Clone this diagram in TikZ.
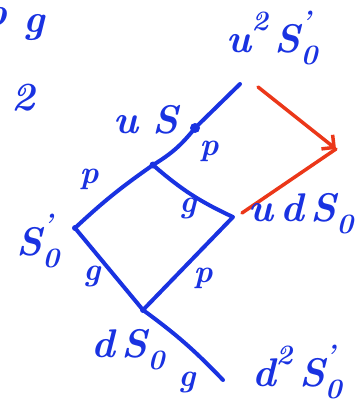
\documentclass[tikz,border=0pt]{standalone}
\usepackage{fontspec}
\usetikzlibrary{arrows.meta}
\definecolor{inkblue}{RGB}{25,50,225}
\definecolor{inkred}{RGB}{235,55,25}
\newcommand{\supx}[1]{\raisebox{0.55em}{\fontsize{28}{30}\selectfont #1}}
\newcommand{\subx}[1]{\raisebox{-0.3em}{\fontsize{28}{30}\selectfont #1}}
\newcommand{\supsub}[2]{\rlap{\supx{#1}}\subx{#2}}
\tikzset{
  bline/.style={draw=inkblue, line width=4pt, line cap=round, line join=round},
  rline/.style={draw=inkred, line width=3.5pt, line cap=round, line join=round},
  lab/.style={text=inkblue, inner sep=0pt, font=\fontsize{40}{46}\selectfont\bfseries\itshape},
  slab/.style={text=inkblue, inner sep=0pt, font=\fontsize{32}{38}\selectfont\bfseries\itshape},
}
\begin{document}
\begin{tikzpicture}[x=1pt,y=-1pt]
\useasboundingbox (0,0) rectangle (359,412);
% vertices
\coordinate (A) at (240,84);
\coordinate (B) at (195,128);
\coordinate (C) at (153,165);
\coordinate (L) at (75,228);
\coordinate (R) at (233,217);
\coordinate (D) at (143,310);
\coordinate (E) at (223,380);
% red arrow points
\coordinate (R1) at (258,87);
\coordinate (R2) at (242,213);
\coordinate (T) at (336,149);
% blue graph
\draw[bline] (A) -- (B) to[bend left=10] (C);
\draw[bline] (C) to[bend right=4] (L) -- (D) to[bend left=5] (E);
\draw[bline] (C) to[bend right=8] (R) -- (D);
\fill[inkblue] (B) circle (5pt);
\fill[inkblue] (C) circle (3.5pt);
\fill[inkblue] (L) circle (3pt);
\fill[inkblue] (D) circle (3pt);
% red arrow
\draw[rline, -{Straight Barb[length=9pt,width=18pt,line width=3.5pt]}] (R1) -- (T);
\draw[rline] (R2) -- (T);
% labels
\node[lab] (l1) at (272,38) {u\supx{2}\,S\supsub{'}{0}};
\node[lab] (l2) at (146,120) {u\,\,S};
\node[slab] (p1) at (209,151) {p};
\node[slab] (p2) at (89,179) {p};
\node[lab] (l3) at (38,241) {S\supsub{'}{0}};
\node[slab] (g1) at (92,276) {g};
\node[slab] (g2) at (188,208) {g};
\node[slab] (p3) at (203,278) {p};
\node[lab] (l4) at (301,214) {u\,d\,S\subx{0}};
\node[lab] (l5) at (128,350) {d\,S\subx{0}};
\node[slab] (g3) at (187,382) {g};
\node[lab] (l6) at (297,372) {d\supx{2}\,S\supsub{'}{0}};
\node[lab] (g4) at (34,28) {g};
\node[lab] (p4) at (-5,20) {p};
\node[lab] (n2) at (23,98) {2};
\end{tikzpicture}
\end{document}
